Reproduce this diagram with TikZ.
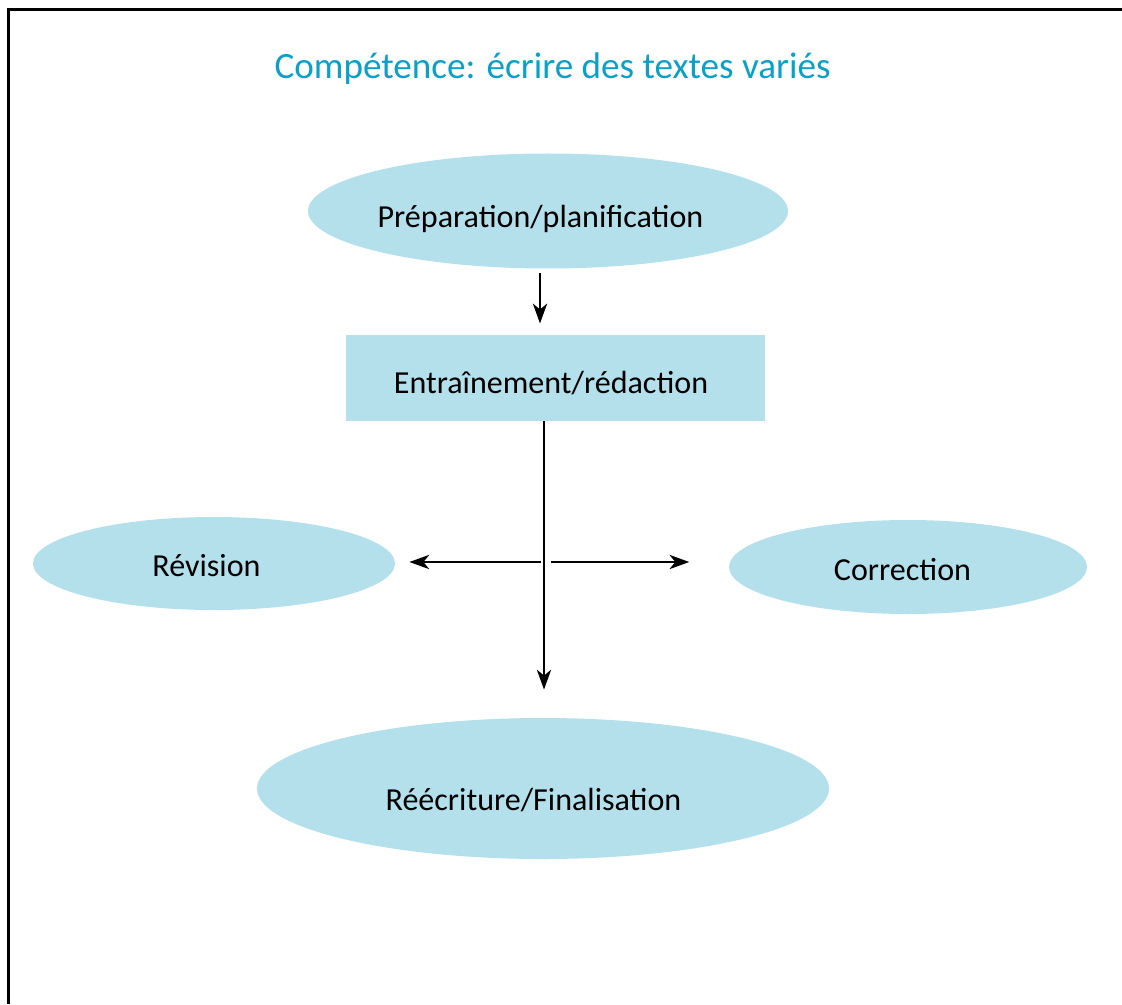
\documentclass[tikz,border=0pt]{standalone}
\usepackage{fontspec}
\setmainfont{Carlito}
\usepackage{tikz}
\usetikzlibrary{shapes.geometric,arrows.meta,positioning}

\definecolor{stagefill}{RGB}{180,224,236}
\definecolor{titleblue}{RGB}{12,160,200}

\tikzset{
  stage/.style={ellipse, fill=stagefill, inner sep=0pt},
  stagebox/.style={rectangle, fill=stagefill, inner sep=0pt},
  stagetext/.style={font=\fontsize{22.8}{26}\selectfont},
  arr/.style={line width=2.1pt, -{Stealth[length=14pt,width=10pt,inset=4pt]}}
}

\begin{document}
\begin{tikzpicture}[x=0.025cm,y=-0.025cm]
\useasboundingbox (0,0) rectangle (1122,1004);
\draw[line width=1.5pt] (8.5,1004) -- (8.5,9.5) -- (1122,9.5);

\node[text=titleblue, font=\fontsize{26.4}{30}\selectfont] (titre) at (552.5,69) {Compétence: écrire des textes variés};

% etapes
\node[stage, minimum width=480*0.025cm, minimum height=115*0.025cm,
  label={[stagetext, xshift=-7.5*0.025cm, yshift=-8*0.025cm]center:Préparation/planification}] (prep) at (548,211) {};
\node[stagebox, minimum width=419*0.025cm, minimum height=86*0.025cm,
  label={[stagetext, xshift=-4.5*0.025cm, yshift=-5*0.025cm]center:Entraînement/rédaction}] (entr) at (555.5,378) {};
\node[stage, minimum width=362*0.025cm, minimum height=93*0.025cm,
  label={[stagetext, xshift=-7.5*0.025cm, yshift=-2*0.025cm]center:Révision}] (rev) at (214,563.5) {};
\node[stage, minimum width=358*0.025cm, minimum height=94*0.025cm,
  label={[stagetext, xshift=-5.5*0.025cm, yshift=-3*0.025cm]center:Correction}] (corr) at (908,567) {};
\node[stage, minimum width=572*0.025cm, minimum height=141*0.025cm,
  label={[stagetext, xshift=-9.5*0.025cm, yshift=-12*0.025cm]center:Réécriture/Finalisation}] (final) at (543,788.5) {};

\coordinate (x) at (544,562);

% fleches
\draw[arr, shorten <=3pt, shorten >=8pt] ([xshift=-0.2cm]prep.south) -- ([xshift=-0.2cm]prep.south |- entr.north);
\draw[arr, shorten >=20pt] (entr.south -| x) -- (final.north -| x);
\draw[arr, shorten <=2pt, shorten >=10pt] (x) -- (x -| rev.east);
\draw[arr, shorten <=5pt, shorten >=28pt] (x) -- (x -| corr.west);
\end{tikzpicture}
\end{document}
